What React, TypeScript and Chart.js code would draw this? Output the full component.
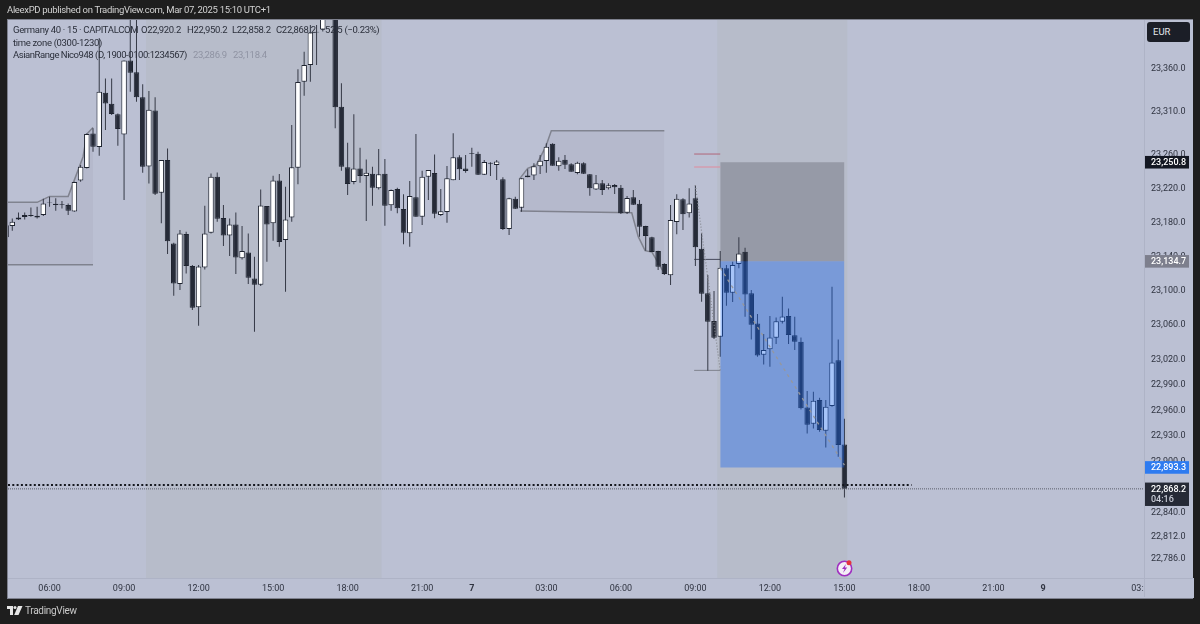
import { useEffect, useRef } from "react";
import { Chart, registerables } from "chart.js";

Chart.register(...registerables);

// 15 minute bars, one entry per bar (index = position on the time axis)
const opens = [
  23177.0, 23176.0, 23183.8, 23186.6, 23188.9, 23186.2, 23188.9, 23203.8, 23202.2, 23201.8, 23200.6,
  23193.2, 23229.5, 23244.0, 23284.6, 23268.6, 23332.2, 23319.3, 23306.9, 23283.4, 23370.1,
  23356.1, 23326.8, 23245.9, 23311.5, 23215.1, 23253.4, 23155.7, 23108.1, 23166.7, 23129.2,
  23080.8, 23127.6, 23168.2, 23233.8, 23185.4, 23165.1, 23178.0, 23138.2, 23145.2, 23114.7,
  23107.3, 23199.5, 23179.2, 23229.5, 23159.6, 23186.2, 23244.4, 23345.1, 23364.7, 23403.7,
  23406.4, 23430.0, 23430.0, 23315.8, 23244.8, 23227.6, 23243.6, 23234.6, 23237.3, 23220.2,
  23237.3, 23200.3, 23219.4, 23196.0, 23167.5, 23209.7, 23187.0, 23233.9, 23238.2, 23189.0,
  23192.5, 23229.6, 23256.5, 23243.6, 23261.2, 23260.8, 23236.2, 23250.3, 23247.6, 23230.8,
  23172.6, 23208.1, 23197.6, 23233.1, 23235.4, 23246.0, 23252.2, 23272.5, 23246.0, 23253.8,
  23248.3, 23238.2, 23249.5, 23236.6, 23219.0, 23226.1, 23220.2, 23224.1, 23221.0, 23191.7,
  23209.7, 23202.2, 23176.1, 23162.8, 23146.8, 23131.6, 23118.3, 23180.8, 23207.3, 23190.9,
  23208.5, 23149.5, 23097.2, 23064.8, 23046.4, 23126.5, 23097.9, 23131.5, 23146.0, 23097.2,
  23062.0, 23025.3, 23031.6, 23045.2, 23064.0, 23070.6, 23048.0, 23040.5, 22963.6, 22944.5,
  22972.2, 22936.3, 22965.2, 23019.0, 22920.2,
];
const highs = [
  23180.0, 23185.0, 23192.0, 23192.0, 23197.9, 23198.7, 23208.1, 23210.4, 23208.5, 23205.3, 23202.6,
  23228.0, 23247.5, 23284.6, 23290.5, 23395.9, 23349.0, 23349.0, 23308.0, 23370.1, 23430.0,
  23430.0, 23342.0, 23334.2, 23326.8, 23253.4, 23267.0, 23156.5, 23171.4, 23169.4, 23130.3,
  23130.3, 23199.9, 23237.7, 23238.9, 23200.6, 23185.0, 23192.0, 23176.0, 23167.4, 23140.1,
  23219.0, 23199.5, 23235.0, 23237.0, 23222.1, 23294.4, 23359.6, 23380.3, 23411.5, 23411.5,
  23440.0, 23445.0, 23440.0, 23343.2, 23273.7, 23306.9, 23267.8, 23254.1, 23245.5, 23266.2,
  23254.5, 23219.0, 23221.0, 23213.2, 23228.8, 23283.9, 23240.9, 23241.7, 23260.0, 23219.4,
  23246.4, 23284.7, 23258.9, 23259.3, 23267.9, 23263.2, 23253.4, 23250.7, 23253.4, 23233.1,
  23209.3, 23210.5, 23231.9, 23242.5, 23249.5, 23259.3, 23272.9, 23272.9, 23256.5, 23259.3,
  23249.5, 23251.5, 23250.7, 23237.0, 23235.8, 23230.0, 23226.1, 23225.3, 23224.1, 23211.2,
  23218.3, 23206.5, 23176.5, 23163.6, 23147.2, 23132.4, 23200.7, 23213.2, 23208.5, 23220.2,
  23224.1, 23167.5, 23118.6, 23099.9, 23146.8, 23130.4, 23134.3, 23162.8, 23150.7, 23101.1,
  23073.0, 23049.5, 23070.6, 23069.0, 23093.3, 23079.6, 23069.8, 23045.6, 22982.8, 22982.0,
  22975.0, 22972.2, 23105.0, 23043.3, 22950.2,
];
const lows = [
  23160.0, 23170.6, 23183.0, 23183.8, 23187.0, 23185.0, 23187.8, 23198.7, 23194.0, 23196.7, 23188.9,
  23192.8, 23228.0, 23243.6, 23263.1, 23258.4, 23288.5, 23306.1, 23270.1, 23206.5, 23333.4,
  23321.7, 23238.5, 23226.0, 23212.4, 23179.2, 23143.2, 23094.4, 23101.1, 23120.6, 23077.6,
  23059.3, 23125.3, 23167.4, 23181.1, 23152.6, 23140.9, 23119.8, 23137.0, 23108.1, 23052.3,
  23105.8, 23134.3, 23158.9, 23151.8, 23099.1, 23181.1, 23224.9, 23328.7, 23345.1, 23364.7,
  23404.0, 23420.0, 23290.5, 23240.9, 23212.4, 23224.9, 23226.8, 23181.9, 23199.9, 23219.0,
  23176.4, 23194.0, 23190.9, 23154.6, 23151.9, 23187.0, 23177.3, 23206.5, 23185.1, 23187.8,
  23180.0, 23229.6, 23230.0, 23238.6, 23245.6, 23235.8, 23235.8, 23234.7, 23230.0, 23171.4,
  23165.5, 23196.0, 23192.9, 23233.1, 23230.0, 23237.0, 23238.6, 23246.8, 23240.9, 23242.9,
  23239.7, 23236.6, 23237.0, 23211.6, 23218.3, 23212.4, 23219.0, 23213.6, 23190.1, 23190.1,
  23200.7, 23163.6, 23147.2, 23145.6, 23124.5, 23118.7, 23106.9, 23166.3, 23171.4, 23186.2,
  23129.2, 23087.4, 23006.6, 23043.7, 23023.0, 23082.7, 23087.0, 23126.5, 23069.8, 23043.3,
  23023.0, 23014.0, 23011.3, 23037.8, 23062.0, 23037.8, 23030.8, 22961.3, 22933.2, 22939.0,
  22935.1, 22916.8, 22964.4, 22905.8, 22858.2,
];
const closes = [
  23163.0, 23181.1, 23186.2, 23188.9, 23187.8, 23188.2, 23202.6, 23203.4, 23200.6, 23201.0, 23194.0,
  23227.6, 23245.5, 23283.8, 23269.0, 23333.4, 23319.7, 23307.2, 23289.7, 23370.1, 23355.7,
  23326.8, 23245.5, 23312.3, 23213.9, 23253.4, 23158.1, 23108.9, 23167.4, 23129.2, 23080.4,
  23128.8, 23167.4, 23233.8, 23184.6, 23165.1, 23178.0, 23139.3, 23146.8, 23115.5, 23107.3,
  23200.2, 23178.0, 23229.5, 23157.3, 23183.8, 23244.8, 23344.7, 23364.7, 23402.9, 23402.9,
  23430.0, 23440.0, 23315.1, 23245.5, 23225.2, 23243.6, 23234.6, 23238.5, 23221.0, 23236.6,
  23199.9, 23218.3, 23196.8, 23168.3, 23211.2, 23187.0, 23233.9, 23241.7, 23190.5, 23193.3,
  23231.9, 23256.5, 23242.5, 23240.5, 23260.4, 23236.2, 23251.1, 23249.1, 23251.8, 23172.6,
  23208.5, 23196.4, 23231.9, 23235.4, 23246.0, 23252.6, 23269.0, 23246.8, 23252.6, 23247.9,
  23239.7, 23250.3, 23237.4, 23220.2, 23226.1, 23218.3, 23223.7, 23221.4, 23190.9, 23208.9,
  23201.1, 23175.3, 23164.4, 23145.6, 23128.5, 23119.9, 23183.1, 23208.1, 23189.8, 23202.6,
  23151.1, 23096.8, 23064.0, 23045.2, 23127.2, 23097.9, 23130.4, 23144.0, 23096.0, 23060.5,
  23024.5, 23030.8, 23045.6, 23064.4, 23070.2, 23048.4, 23040.5, 22962.5, 22943.3, 22971.4,
  22937.1, 22964.4, 23016.3, 22919.5, 22868.2,
];

// axis ticks
const priceTicks = [
  23360, 23310, 23260, 23220, 23180, 23140, 23100, 23060, 23020, 22990, 22960, 22930, 22900, 22840,
  22812, 22786,
];
const timeTickBars = [7, 19, 31, 43, 55, 67, 75, 87, 99, 111, 123, 135, 147, 159, 167, 183];
const timeTickLabels = [
  "06:00", "09:00", "12:00", "15:00", "18:00", "21:00", "7", "03:00",
  "06:00", "09:00", "12:00", "15:00", "18:00", "21:00", "9", "03:00",
];
const dayLabels = ["7", "9"];

const priceMin = 22763.8;
const priceMax = 23417.4;
const barMin = 0.31;
const barMax = 183.24;

// time zone (0300-1230) sessions, bar positions
const sessionStarts = [22.5, 114.5];
const sessionEnds = [60.5, 135.5];

// AsianRange boxes
const asian1TopBars = [0, 5, 7, 10, 12.4, 13, 14];
const asian1TopPrices = [23203.8, 23203.8, 23210.8, 23210.8, 23257.3, 23283.8, 23291.6];
const asian1BottomBars = [0, 14];
const asian1BottomPrices = [23130.7, 23130.7];
const asian2TopBars = [82.75, 84, 85.4, 86.9, 87.8, 106];
const asian2TopPrices = [23231.9, 23243.6, 23247.6, 23269.0, 23287.8, 23287.8];
const asian2BottomBars = [82.75, 100.75, 101.8, 102.9, 104, 106];
const asian2BottomPrices = [23193.7, 23191.7, 23163.6, 23147.2, 23145.6, 23120.6];

// position tool
const positionBars = [115, 135];
const stopPrice = 23250.8;
const entryPrice = 23134.7;
const targetPrice = 22893.3;

// short levels left of the position
const levelBars = [110.8, 115];
const levelPrices = [23260.4, 23245.2, 23137.0, 23007.0];

// dotted path
const pathABars = [111, 115];
const pathAPrices = [23224.1, 23007.0];
const pathBBars = [115, 135];
const pathBPrices = [23127.2, 22896.0];

const drawnLinePrice = 22872.6;
const drawnLineEnd = 145.8;
const lastPrice = 22868.2;

// tags on the price axis
const tagPrices = [stopPrice, entryPrice, targetPrice, lastPrice];
const tagLabels = ["23,250.8", "23,134.7", "22,893.3", "22,868.2"];
const countdownLabel = "04:16";

const BG = "#bbc0d3";
const FONT = "Roboto, sans-serif";

function pts(xs: number[], ys: number[]) {
  return xs.map((x, i) => ({ x, y: ys[i] }));
}

function lineSet(data: any[], color: string, order: number, extra: any = {}) {
  return {
    type: "line",
    data,
    borderColor: color,
    borderWidth: 1,
    pointRadius: 0,
    fill: false,
    order,
    ...extra,
  };
}

const tagColors = ["#131722", "#7d7f8d", "#2e7bf0", "#262a36"];

const frame = {
  id: "frame",
  beforeDraw(chart: any) {
    const { ctx, chartArea: a } = chart;
    ctx.save();
    ctx.fillStyle = "#7e818e";
    ctx.fillRect(a.left - 1, a.top - 1, 1186, 580);
    ctx.fillStyle = BG;
    ctx.fillRect(a.left, a.top, 1185, 578);
    ctx.restore();
  },
  // runs after the time labels, so the last label is cut at the price axis
  beforeDatasetsDraw(chart: any) {
    const { ctx, chartArea: a } = chart;
    ctx.save();
    ctx.fillStyle = BG;
    ctx.fillRect(a.right, a.bottom, 50, 20);
    ctx.fillStyle = "#aeb3c6";
    ctx.fillRect(a.left, a.bottom, 1185, 1);
    ctx.fillRect(a.right, a.top, 1, 577);
    ctx.restore();
  },
  afterDraw(chart: any) {
    const { ctx, chartArea: a, scales } = chart;
    ctx.save();
    ctx.textBaseline = "middle";
    ctx.textAlign = "left";
    tagPrices.forEach((p, i) => {
      const y = scales.y.getPixelForValue(p);
      const last = i === tagPrices.length - 1;
      ctx.fillStyle = tagColors[i];
      ctx.fillRect(a.right + 1, y - 6.3, 44, last ? 23.4 : 12.6);
      ctx.fillStyle = "#ffffff";
      ctx.font = `500 9px ${FONT}`;
      ctx.fillText(tagLabels[i], a.right + 7, y + 0.5);
      if (last) {
        ctx.fillStyle = "#c9ccd6";
        ctx.fillText(countdownLabel, a.right + 7, y + 11);
      }
    });
    ctx.restore();
  },
};

function band(xs: number[], top: number, bottom: number, color: string, order: number) {
  return [
    lineSet(pts(xs, [top, top]), "transparent", order, { fill: "+1", backgroundColor: color }),
    lineSet(pts(xs, [bottom, bottom]), "transparent", order),
  ];
}

export default function App() {
  const canvasRef = useRef<HTMLCanvasElement>(null);

  useEffect(() => {
    if (!canvasRef.current) return;

    const wicks = opens.map((_, i) => ({ x: i, y: [lows[i], highs[i]] }));
    const bodies = opens.map((o, i) => ({ x: i, y: [o, closes[i]] }));

    const chart = new Chart(canvasRef.current, {
      type: "bar",
      data: {
        datasets: [
          ...sessionStarts.flatMap((s, i) =>
            band([s, sessionEnds[i]], priceMax, priceMin, "rgba(160,165,155,0.15)", 10)
          ),
          ...band(positionBars, stopPrice, entryPrice, "rgba(117,120,132,0.5)", 9),
          lineSet(pts(asian1TopBars, asian1TopPrices), "#80838f", 8, {
            fill: "+1",
            backgroundColor: "rgba(120,122,135,0.09)",
            borderWidth: 1.5,
          }),
          lineSet(pts(asian1BottomBars, asian1BottomPrices), "#80838f", 8, { borderWidth: 1.5 }),
          lineSet(pts(asian2TopBars, asian2TopPrices), "#80838f", 8, {
            fill: "+1",
            backgroundColor: "rgba(120,122,135,0.09)",
            borderWidth: 1.5,
          }),
          lineSet(pts(asian2BottomBars, asian2BottomPrices), "#80838f", 8, { borderWidth: 1.5 }),
          lineSet(pts(levelBars, [levelPrices[0], levelPrices[0]]), "#b0667a", 7),
          lineSet(pts(levelBars, [levelPrices[1], levelPrices[1]]), "#e08a9c", 7),
          lineSet(pts(levelBars, [levelPrices[2], levelPrices[2]]), "#45485a", 7),
          lineSet(pts(levelBars, [levelPrices[3], levelPrices[3]]), "#7f828e", 7),
          {
            label: "wicks",
            data: wicks,
            backgroundColor: "#353946",
            barThickness: 1,
            grouped: false,
            inflateAmount: 0,
            order: 3,
          },
          {
            label: "bodies",
            data: bodies,
            backgroundColor: closes.map((c, i) => (c >= opens[i] ? "#ffffff" : "#262b38")),
            borderColor: "#1f2430",
            borderWidth: 1,
            borderSkipped: false,
            barThickness: 5.5,
            grouped: false,
            inflateAmount: 0,
            order: 2,
          },
          ...band(positionBars, entryPrice, targetPrice, "rgba(20,100,240,0.38)", 1),
          lineSet(pts(pathABars, pathAPrices), "#85878f", 0, { borderDash: [1, 2], borderWidth: 1.2 }),
          lineSet(pts(pathBBars, pathBPrices), "#96979c", 0, { borderDash: [3, 4], borderWidth: 1.3 }),
          lineSet(pts([barMin, drawnLineEnd], [drawnLinePrice, drawnLinePrice]), "#15171e", 0, {
            borderWidth: 2,
            borderDash: [2, 2.3],
          }),
          lineSet(pts([barMin, barMax], [lastPrice, lastPrice]), "#5a5d6a", 0, {
            borderDash: [1, 1],
          }),
        ] as any,
      },
      options: {
        responsive: false,
        animation: false,
        devicePixelRatio: 1,
        events: [],
        layout: { padding: { left: 8, top: 20, right: 7, bottom: 26 } },
        plugins: { legend: { display: false }, tooltip: { enabled: false } },
        scales: {
          x: {
            type: "linear",
            offset: false,
            min: barMin,
            max: barMax,
            grid: { display: false, drawTicks: false },
            border: { display: false },
            afterBuildTicks: (axis: any) => {
              axis.ticks = timeTickBars.map((value) => ({ value }));
            },
            afterFit: (axis: any) => {
              axis.height = 20;
            },
            ticks: {
              autoSkip: false,
              maxRotation: 0,
              padding: 5,
              color: "#2f3340",
              font: (ctx: any) => {
                const label = timeTickLabels[timeTickBars.indexOf(ctx.tick?.value)];
                return {
                  family: FONT,
                  size: 9,
                  weight: dayLabels.includes(label) ? "bold" : "normal",
                };
              },
              callback: (value: any) => timeTickLabels[timeTickBars.indexOf(value)],
            },
          },
          y: {
            type: "linear",
            position: "right",
            min: priceMin,
            max: priceMax,
            grid: { display: false, drawTicks: false },
            border: { display: false },
            afterBuildTicks: (axis: any) => {
              axis.ticks = priceTicks.map((value) => ({ value }));
            },
            afterFit: (axis: any) => {
              axis.width = 49;
            },
            ticks: {
              z: 1,
              autoSkip: false,
              padding: 7,
              align: "center",
              color: "#2f3340",
              font: { family: FONT, size: 9 },
              callback: (value: any) =>
                Number(value).toLocaleString("en-US", {
                  minimumFractionDigits: 1,
                  maximumFractionDigits: 1,
                }),
            },
          },
        },
      } as any,
      plugins: [frame],
    });

    return () => chart.destroy();
  }, []);

  const legend = (text: string, left: number, top: number, color = "#2b2f3b", spacing = -0.32) => (
    <span
      style={{
        position: "absolute",
        left,
        top,
        color,
        whiteSpace: "nowrap",
        fontSize: 9.5,
        letterSpacing: spacing,
        lineHeight: "12px",
      }}
    >
      {text}
    </span>
  );

  return (
    <div
      style={{
        position: "fixed",
        left: 0,
        top: 0,
        width: 1200,
        height: 624,
        background: "#1e1e1e",
        fontFamily: FONT,
        overflow: "hidden",
      }}
    >
      <canvas ref={canvasRef} width={1200} height={624} style={{ display: "block" }} />
      <span
        style={{
          position: "absolute",
          left: 7,
          top: 3,
          color: "#d2d2d2",
          fontSize: 9.5,
          letterSpacing: -0.32,
          lineHeight: "14px",
          whiteSpace: "nowrap",
        }}
      >
        AleexPD published on TradingView.com, Mar 07, 2025 15:10 UTC+1
      </span>
      {legend("Germany 40 · 15 · CAPITALCOM", 13, 24)}
      {legend("O22,920.2", 141, 24)}
      {legend("H22,950.2", 187, 24)}
      {legend("L22,858.2", 232, 24)}
      {legend("C22,868.2", 276, 24)}
      {legend("−52.5 (−0.23%)", 320, 24)}
      {legend("time zone (0300-1230)", 13, 37)}
      {legend("AsianRange Nico948 (D, 1900-0100:1234567)", 13, 49, "#2b2f3b", -0.45)}
      {legend("23,286.9", 193, 49, "#8f93a3")}
      {legend("23,118.4", 233, 49, "#8f93a3")}
      <div
        style={{
          position: "absolute",
          left: 1147,
          top: 22,
          width: 43,
          height: 20,
          background: "#1b1e27",
          borderRadius: 3,
          color: "#e4e6eb",
          fontSize: 9.5,
          lineHeight: "20px",
          textIndent: 6,
        }}
      >
        EUR
      </div>
      <svg style={{ position: "absolute", left: 834, top: 558 }} width="22" height="20" viewBox="0 0 22 20">
        <circle cx="10.5" cy="10.5" r="7.2" fill="#f4eef6" stroke="#a02fc0" strokeWidth="1.6" />
        <path d="M12 6 L8 11 L10.5 11 L9 15 L13.2 9.6 L10.8 9.6 Z" fill="#a02fc0" />
        <circle cx="15" cy="4.8" r="2.5" fill="#e5323e" />
      </svg>
      <svg style={{ position: "absolute", left: 7, top: 606 }} width="16" height="10" viewBox="0 0 16 10">
        <path d="M0 0 H6 V9 H3 V3 H0 Z" fill="#e6e6e6" />
        <circle cx="8" cy="1.6" r="1.5" fill="#e6e6e6" />
        <path d="M11 0 H15.5 L11.5 9 H7.2 Z" fill="#e6e6e6" />
      </svg>
      <span
        style={{
          position: "absolute",
          left: 25,
          top: 604,
          color: "#c9c9c9",
          fontSize: 10,
          letterSpacing: -0.3,
          lineHeight: "14px",
        }}
      >
        TradingView
      </span>
    </div>
  );
}
